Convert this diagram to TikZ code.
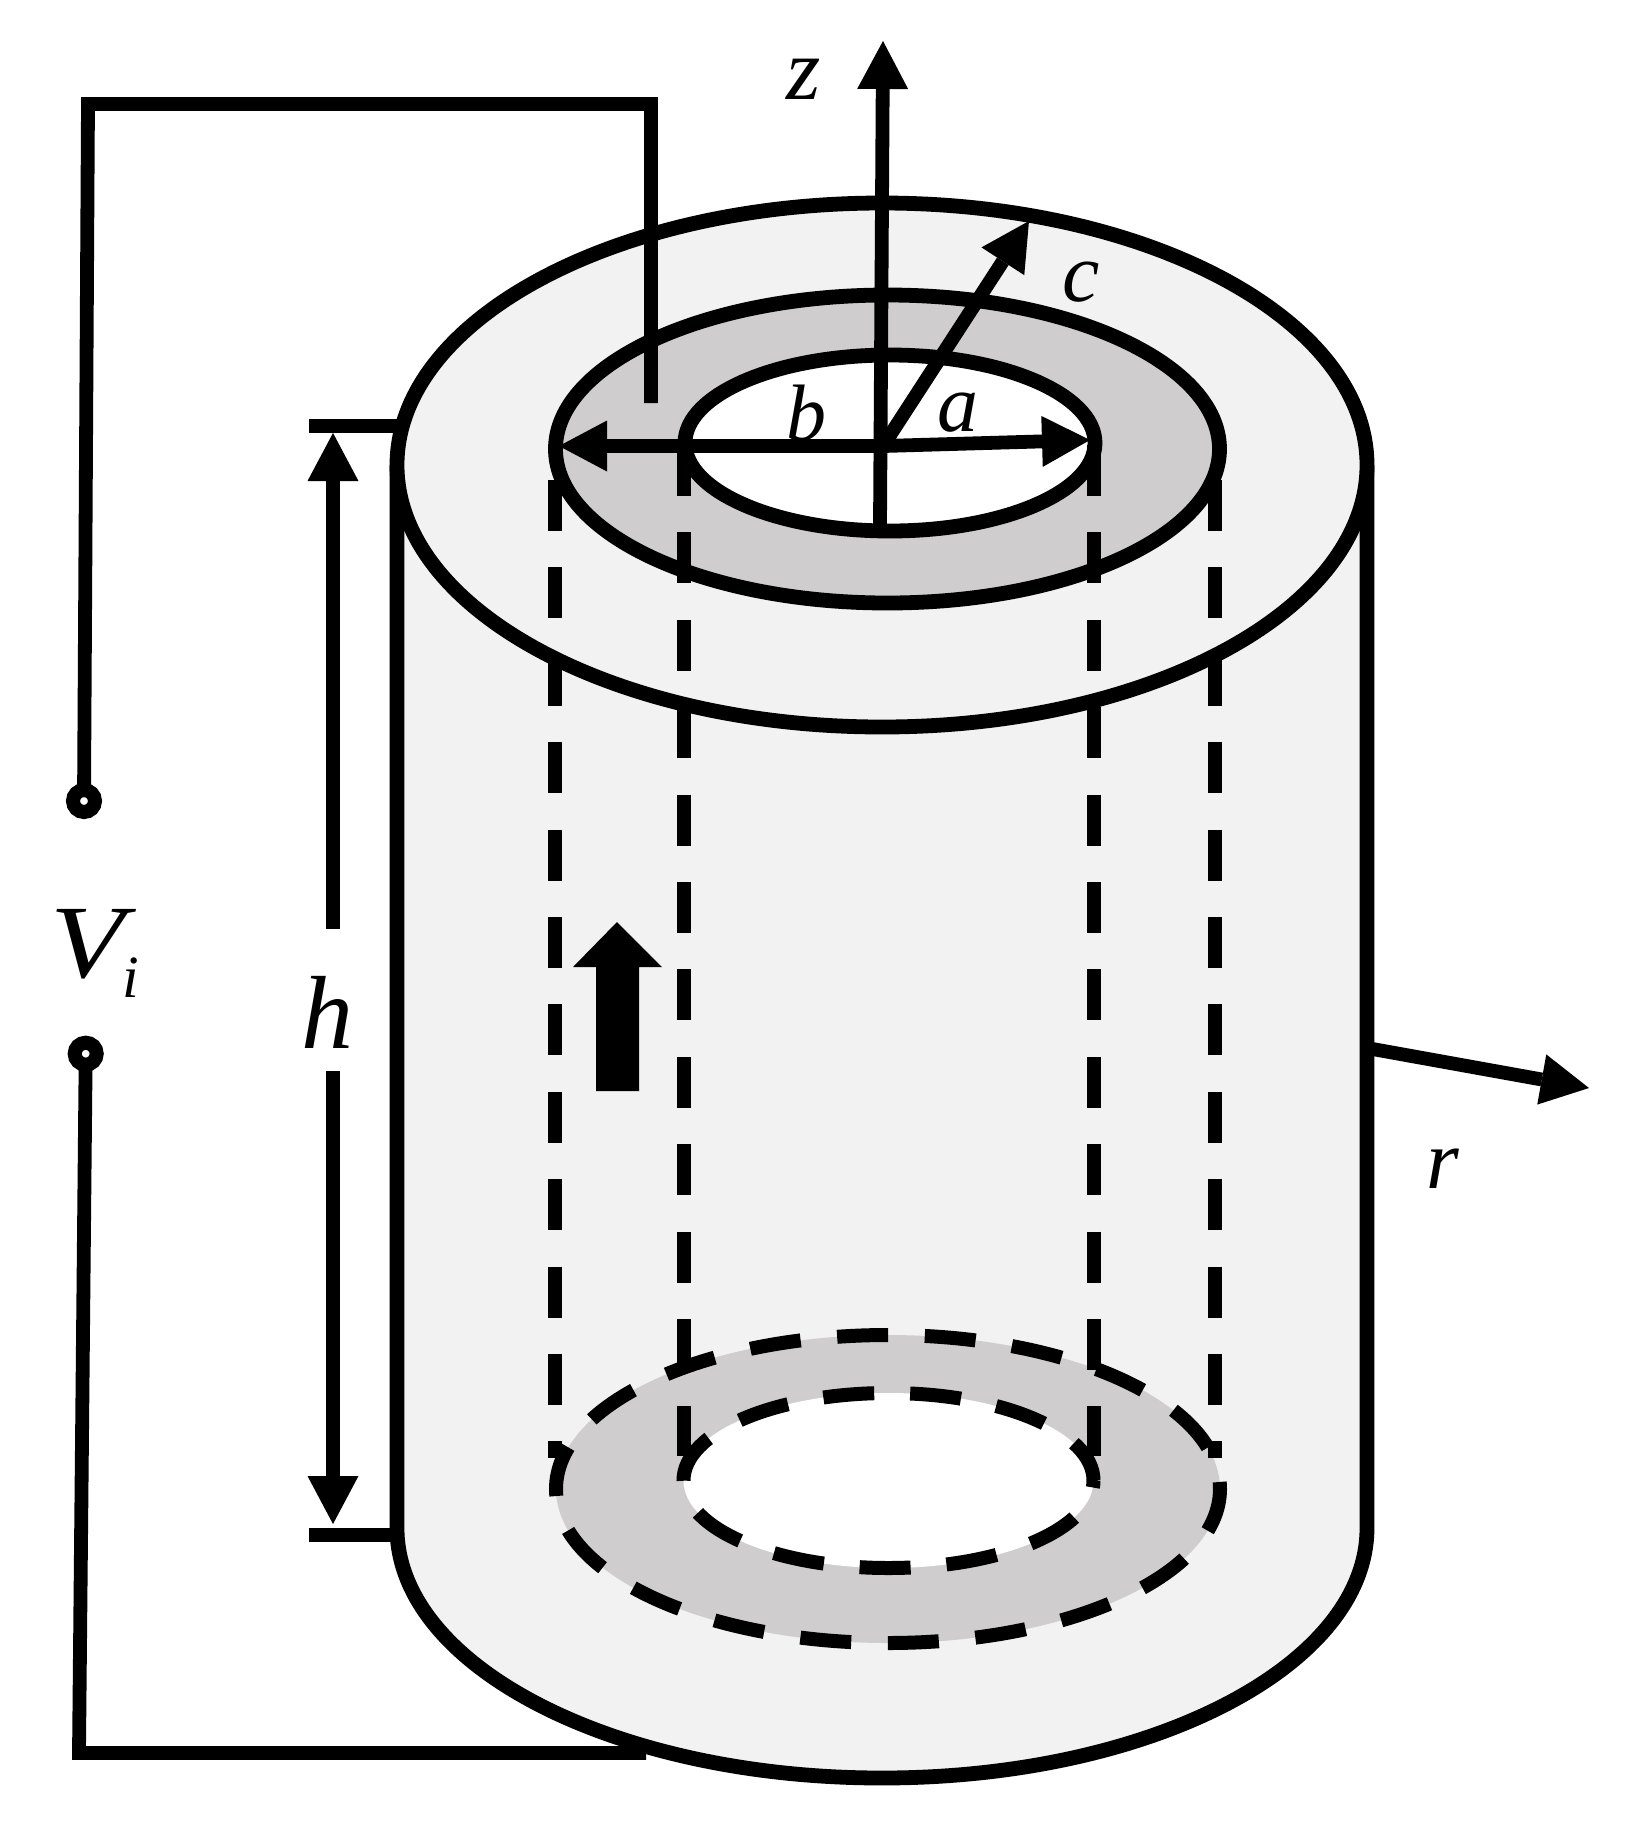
\documentclass[tikz,border=0pt]{standalone}
\usepackage{fontspec}
\usepackage{graphicx}
\setmainfont{Liberation Serif}
\usetikzlibrary{arrows.meta}
\definecolor{bodygray}{HTML}{F2F2F2}
\definecolor{ringgray}{HTML}{CFCDCE}
\tikzset{
  wire/.style={line width=6.9pt,line cap=butt,miter limit=10},
  shell/.style={line width=7.4pt,line cap=butt},
  dashline/.style={line width=7pt,dash pattern=on 25.5pt off 18.2pt},
  dashouter/.style={line width=7pt,dash pattern=on 25.5pt off 18.35pt,dash phase=3.5pt},
  dashinner/.style={line width=7pt,dash pattern=on 25.5pt off 18pt,dash phase=22pt},
  dimtip/.style={-{Triangle[length=24pt,width=25.5pt,line width=0pt]}},
  label/.style={inner sep=0pt,outer sep=0pt,anchor=base,font=\itshape\fontsize{#1}{#1}\selectfont},
  terminal/.style={circle,draw=black,fill=white,line width=7pt,minimum size=11pt,inner sep=0pt,outer sep=0pt}
}
\begin{document}
\begin{tikzpicture}[x=0.5pt,y=-0.5pt]
\useasboundingbox (0,0) rectangle (1625,1822);
\fill[white] (0,0) rectangle (1625,1822);
% named points
\coordinate (topC) at (882,465);
\coordinate (midC) at (887.5,449);
\coordinate (inC) at (890,443);
\coordinate (lowMidC) at (888,1489);
\coordinate (lowInC) at (888.5,1480.5);
\coordinate (origin) at (883,446);
% body
\fill[bodygray] (397,465) -- (397,1528) arc[start angle=180,end angle=360,x radius=485,y radius=-250] -- (1367,465) -- cycle;
\draw[shell] (397,465) -- (397,1528) arc[start angle=180,end angle=360,x radius=485,y radius=-250] -- (1367,465);
% top face
\draw[shell,fill=bodygray] (topC) ellipse[x radius=485,y radius=262];
\draw[shell,fill=ringgray] (midC) ellipse[x radius=332,y radius=154];
\draw[shell,fill=white] (inC) ellipse[x radius=205,y radius=88];
% bottom rings
\fill[ringgray] (lowMidC) ellipse[x radius=332,y radius=154];
\fill[white] (lowInC) ellipse[x radius=205,y radius=87.5];
\draw[dashouter] (lowMidC) ellipse[x radius=332,y radius=154];
\draw[dashinner] (lowInC) ellipse[x radius=205,y radius=87.5];
% hidden edges
\coordinate (d1a) at (555,480); \coordinate (d1b) at (555,1458);
\coordinate (d2a) at (684,445); \coordinate (d2b) at (684,1456);
\coordinate (d3a) at (1094,445); \coordinate (d3b) at (1094,1456);
\coordinate (d4a) at (1215,480); \coordinate (d4b) at (1215,1458);
\draw[dashline] (d1a) -- (d1b);
\draw[dashline] (d2a) -- (d2b);
\draw[dashline] (d3a) -- (d3b);
\draw[dashline] (d4a) -- (d4b);
% circuit
\node[terminal] (t1) at (84,801) {};
\node[terminal] (t2) at (85.7,1053.7) {};
\coordinate (wA) at (88,104); \coordinate (wB) at (651,104); \coordinate (wC) at (651,403);
\coordinate (wD) at (79,1753); \coordinate (wE) at (646,1753);
\draw[wire] (t1) -- (wA) -- (wB) -- (wC);
\draw[wire] (t2) -- (wD) -- (wE);
% axes
\coordinate (zBase) at (880,525); \coordinate (zTip) at (883,41);
\draw[wire,dimtip] (zBase) -- (zTip);
\coordinate (cTip) at (1029,221);
\draw[wire,dimtip] (origin) -- (cTip);
\coordinate (bTip) at (559,446); \coordinate (aTip) at (1090,440);
\draw[wire,dimtip] (origin) -- (bTip);
\draw[wire,dimtip] (origin) -- (aTip);
\coordinate (rBase) at (1367,1048); \coordinate (rTip) at (1589,1088);
\draw[wire,dimtip] (rBase) -- (rTip);
% height dimension
\coordinate (tk1a) at (309,426); \coordinate (tk1b) at (397,426);
\coordinate (tk2a) at (309,1535); \coordinate (tk2b) at (397,1535);
\draw[wire] (tk1a) -- (tk1b);
\draw[wire] (tk2a) -- (tk2b);
\coordinate (hUpBase) at (333,929); \coordinate (hUpTip) at (333,433);
\coordinate (hDnBase) at (333,1071); \coordinate (hDnTip) at (333,1524);
\draw[wire,dimtip] (hUpBase) -- (hUpTip);
\draw[wire,dimtip] (hDnBase) -- (hDnTip);
% block arrow
\fill[black] (617,922) -- (662,967) -- (639,967) -- (639,1091) -- (596,1091) -- (596,967) -- (573,967) -- cycle;
% labels
\node[label=44] (lz) at (804,99) {z};
\node[label=40] (lb) at (806,440) {b};
\node[label=41] (la) at (958,431) {a};
\node[label=42] (lc) at (1081,301) {c};
\node[label=42] (lr) at (1443,1188) {r};
\node[label=52] (lh) at (327.5,1048) {h};
\node[label=52,anchor=base west] (lV) at (50,977) {\scalebox{1.17}[1]{V}\kern-1pt\raisebox{-10pt}{\fontsize{30}{30}\selectfont i}};
\end{tikzpicture}
\end{document}
